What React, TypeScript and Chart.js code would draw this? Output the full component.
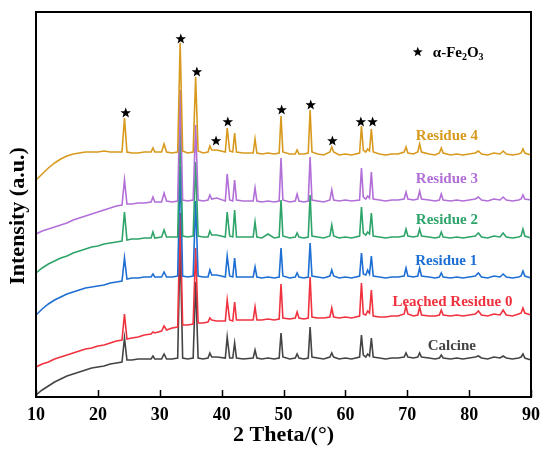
import { useEffect, useRef } from 'react';
import { Chart, registerables } from 'chart.js';
Chart.register(...registerables);

const FONT = "'Liberation Serif', 'Times New Roman', serif";

// 2 theta positions (degrees), shared by all patterns
const twoTheta = [
  10, 11, 12, 13, 14, 15, 16, 17, 18, 19,
  20, 21, 22, 23, 23.9, 24.3, 24.7, 25.5, 26.5, 27.5,
  28.6, 28.9, 29.2, 30.3, 30.7, 31.1, 32, 32.9, 33.3, 33.7,
  34.5, 35.4, 35.8, 36.2, 37, 37.8, 38.1, 38.4, 39.2, 40.6,
  40.9, 41.3, 41.8, 42.1, 42.4, 43.5, 45.1, 45.4, 45.7, 46.5,
  47.5, 48.5, 49.3, 49.6, 49.9, 51, 51.9, 52.2, 52.5, 53.3,
  54.0, 54.3, 54.6, 55.5, 56.5, 57.5, 57.8, 58.1, 59, 60,
  61, 62.3, 62.6, 62.9, 63.3, 63.6, 63.9, 64.2, 64.5, 65.5,
  66.5, 67.5, 68.5, 69.5, 69.8, 70.1, 71, 71.7, 72, 72.3,
  73.5, 74.5, 75.2, 75.5, 75.8, 77, 78, 79, 80, 81,
  81.5, 82, 83, 84, 85, 85.5, 86, 87, 88, 88.4,
  88.7, 89, 90
];

// stacked intensities (a.u., offset included)
const residue4 = [
  217, 223, 229, 234, 238, 241, 243, 244, 245, 245,
  245, 246, 245, 245, 245, 279, 245, 244, 244, 245,
  245, 249, 245, 245, 253, 245, 244, 245, 354, 246,
  244, 245, 320, 246, 244, 245, 251, 247, 247, 245,
  269, 246, 245, 264, 245, 244, 244, 258, 244, 243,
  244, 243, 244, 281, 245, 243, 243, 247, 243, 243,
  244, 287, 245, 243, 242, 245, 250, 245, 242, 243,
  242, 244, 271, 247, 245, 248, 246, 268, 245, 243,
  242, 243, 243, 245, 250, 244, 243, 245, 253, 245,
  243, 242, 244, 249, 244, 242, 243, 242, 243, 244,
  246, 243, 242, 244, 243, 246, 243, 242, 243, 244,
  248, 244, 242
];
const residue3 = [
  163, 166, 168, 170, 172, 174, 177, 179, 181, 183,
  185, 187, 189, 191, 192, 217, 193, 193, 194, 194,
  195, 200, 195, 195, 204, 196, 195, 196, 307, 197,
  196, 197, 272, 197, 196, 197, 202, 198, 199, 196,
  223, 197, 196, 217, 197, 196, 196, 209, 196, 195,
  196, 195, 196, 239, 197, 195, 196, 203, 196, 195,
  196, 240, 197, 196, 195, 197, 207, 197, 196, 197,
  196, 197, 229, 200, 198, 201, 199, 225, 198, 197,
  196, 197, 197, 198, 205, 198, 197, 198, 206, 198,
  197, 196, 197, 203, 197, 196, 197, 196, 197, 198,
  200, 197, 196, 198, 197, 200, 197, 196, 197, 198,
  202, 198, 197
];
const residue2 = [
  124, 129, 133, 136, 139, 141, 144, 146, 148, 150,
  151, 153, 154, 155, 156, 185, 157, 158, 158, 159,
  159, 165, 159, 160, 167, 160, 160, 160, 270, 161,
  160, 161, 235, 161, 160, 160, 166, 162, 162, 160,
  185, 161, 160, 187, 160, 160, 160, 175, 160, 159,
  163, 159, 160, 197, 161, 159, 160, 164, 160, 159,
  160, 202, 161, 160, 159, 161, 172, 161, 159, 160,
  159, 161, 190, 164, 162, 165, 163, 184, 161, 160,
  159, 160, 160, 161, 168, 161, 160, 161, 168, 161,
  160, 159, 160, 165, 160, 159, 160, 159, 160, 161,
  164, 160, 159, 161, 160, 164, 160, 159, 160, 161,
  168, 161, 159
];
const residue1 = [
  82, 88, 93, 97, 100, 103, 105, 107, 109, 110,
  111, 112, 114, 115, 116, 139, 118, 119, 119, 120,
  120, 123, 120, 120, 125, 120, 120, 121, 231, 121,
  120, 121, 196, 121, 120, 120, 127, 122, 122, 120,
  141, 121, 120, 139, 120, 120, 120, 130, 120, 119,
  120, 119, 120, 149, 121, 119, 120, 124, 120, 119,
  120, 154, 121, 120, 119, 121, 127, 121, 119, 120,
  119, 121, 144, 123, 122, 127, 123, 141, 121, 120,
  119, 120, 120, 121, 129, 121, 120, 121, 129, 121,
  120, 119, 120, 124, 120, 119, 120, 119, 120, 121,
  124, 120, 119, 121, 120, 123, 120, 119, 120, 121,
  126, 121, 119
];
const leached0 = [
  30, 33, 35, 38, 40, 42, 44, 46, 48, 49,
  51, 52, 54, 56, 57, 83, 58, 59, 60, 62,
  63, 65, 64, 66, 71, 67, 69, 70, 184, 72,
  72, 73, 149, 74, 74, 75, 79, 77, 76, 76,
  97, 77, 76, 95, 77, 77, 77, 90, 77, 77,
  78, 77, 78, 113, 79, 78, 79, 85, 79, 78,
  79, 120, 80, 79, 79, 80, 89, 80, 79, 80,
  79, 81, 114, 83, 82, 86, 84, 107, 81, 80,
  80, 81, 81, 83, 91, 83, 81, 82, 90, 82,
  81, 81, 82, 87, 82, 81, 82, 81, 82, 83,
  86, 82, 81, 83, 82, 87, 82, 81, 83, 84,
  89, 84, 82
];
const calcine = [
  2, 7, 11, 15, 18, 21, 23, 25, 27, 29,
  30, 31, 33, 34, 35, 59, 37, 37, 38, 38,
  38, 41, 38, 38, 43, 38, 38, 39, 157, 39,
  38, 39, 115, 39, 38, 39, 44, 40, 40, 39,
  60, 39, 39, 54, 39, 38, 39, 47, 39, 38,
  39, 38, 39, 64, 40, 38, 39, 43, 39, 38,
  39, 70, 40, 39, 38, 40, 44, 40, 38, 39,
  38, 40, 62, 42, 40, 43, 41, 59, 40, 39,
  38, 39, 39, 40, 44, 40, 39, 40, 44, 40,
  39, 38, 39, 42, 39, 38, 39, 38, 39, 40,
  41, 39, 38, 40, 39, 41, 39, 38, 39, 40,
  43, 39, 37
];

// alpha-Fe2O3 markers
const starTheta = [24.5, 33.4, 36.0, 39.1, 41.0, 49.7, 54.4, 57.9, 62.5, 64.4];
const starIntensity = [284, 358, 325, 256, 275, 287, 292, 256, 275, 275];

const xTicks = [10, 20, 30, 40, 50, 60, 70, 80, 90];

const seriesNames = ['Residue 4', 'Residue 3', 'Residue 2', 'Residue 1', 'Leached Residue 0', 'Calcine'];
const seriesColors = ['#D89A1E', '#B26FD8', '#2EA46A', '#1E6FD3', '#F0323F', '#444444'];
const seriesData = [residue4, residue3, residue2, residue1, leached0, calcine];
// label anchor (2 theta, intensity)
const labelTheta = [76.4, 76.4, 76.4, 76.3, 77.3, 77.2];
const labelIntensity = [261, 218, 177, 136, 95, 51];

function drawStar(ctx: CanvasRenderingContext2D, cx: number, cy: number, r: number) {
  ctx.beginPath();
  for (let i = 0; i < 10; i++) {
    const rad = i % 2 === 0 ? r : r * 0.42;
    const a = -Math.PI / 2 + (i * Math.PI) / 5;
    const px = cx + rad * Math.cos(a);
    const py = cy + rad * Math.sin(a);
    if (i === 0) ctx.moveTo(px, py);
    else ctx.lineTo(px, py);
  }
  ctx.closePath();
  ctx.fill();
}

const decorPlugin = {
  id: 'xrdDecor',
  afterDatasetsDraw(chart: any) {
    const { ctx, chartArea: a, scales } = chart;
    const x = scales.x;
    const y = scales.y;
    ctx.save();

    // peak markers
    ctx.fillStyle = '#000';
    starTheta.forEach((t, i) => {
      drawStar(ctx, x.getPixelForValue(t), y.getPixelForValue(starIntensity[i]), 5.5);
    });

    // legend: star + alpha-Fe2O3
    const lx = x.getPixelForValue(71.7);
    const ly = y.getPixelForValue(345);
    drawStar(ctx, lx, ly, 5.2);
    ctx.textBaseline = 'alphabetic';
    ctx.textAlign = 'left';
    let tx = lx + 15;
    const base = ly + 5;
    const parts: [string, boolean][] = [['α-Fe', false], ['2', true], ['O', false], ['3', true]];
    parts.forEach(([s, sub]) => {
      ctx.font = sub ? `bold 10px ${FONT}` : `bold 15px ${FONT}`;
      ctx.fillText(s, tx, sub ? base + 3 : base);
      tx += ctx.measureText(s).width;
    });

    // series labels
    ctx.font = `bold 15px ${FONT}`;
    ctx.textAlign = 'center';
    ctx.textBaseline = 'middle';
    seriesNames.forEach((name, i) => {
      ctx.fillStyle = seriesColors[i];
      ctx.fillText(name, x.getPixelForValue(labelTheta[i]), y.getPixelForValue(labelIntensity[i]));
    });

    // frame
    ctx.strokeStyle = '#000';
    ctx.lineWidth = 2;
    ctx.strokeRect(a.left, a.top, a.right - a.left, a.bottom - a.top);

    // inward tick marks
    ctx.lineWidth = 1.5;
    xTicks.forEach((t) => {
      const px = Math.round(x.getPixelForValue(t)) + 0.5;
      ctx.beginPath();
      ctx.moveTo(px, a.bottom);
      ctx.lineTo(px, a.bottom - 7);
      ctx.stroke();
    });

    // y title
    ctx.fillStyle = '#000';
    ctx.font = `bold 22px ${FONT}`;
    ctx.translate(18, 216);
    ctx.rotate(-Math.PI / 2);
    ctx.textAlign = 'center';
    ctx.textBaseline = 'middle';
    ctx.fillText('Intensity (a.u.)', 0, 0);

    ctx.restore();
  }
};

function XrdChart() {
  const canvasRef = useRef<HTMLCanvasElement>(null);
  const chartRef = useRef<Chart | null>(null);

  useEffect(() => {
    if (!canvasRef.current) return;
    if (chartRef.current) chartRef.current.destroy();
    const ctx = canvasRef.current.getContext('2d');
    if (!ctx) return;

    chartRef.current = new Chart(ctx, {
      type: 'line',
      data: {
        datasets: seriesData.map((arr, i) => ({
          label: seriesNames[i],
          data: twoTheta.map((t, j) => ({ x: t, y: arr[j] })),
          borderColor: seriesColors[i],
          borderWidth: 1.6,
          pointRadius: 0,
          tension: 0,
          fill: false
        }))
      },
      options: {
        responsive: false,
        animation: false,
        layout: { padding: { left: 36, top: 12, right: 19, bottom: 0 } },
        plugins: {
          legend: { display: false },
          tooltip: { enabled: false }
        },
        scales: {
          x: {
            type: 'linear',
            min: 10,
            max: 90,
            grid: { display: false, drawTicks: false },
            border: { display: false },
            ticks: {
              stepSize: 10,
              padding: 8,
              maxRotation: 0,
              color: '#000',
              font: { family: FONT, size: 18, weight: 'bold' }
            },
            title: {
              display: true,
              text: '2 Theta/(°)',
              color: '#000',
              padding: { top: 0, bottom: 2 },
              font: { family: FONT, size: 22, weight: 'bold' }
            },
            afterFit: (scale: any) => {
              scale.height = 54;
            }
          },
          y: {
            display: false,
            min: 0,
            max: 385
          }
        }
      },
      plugins: [decorPlugin]
    });

    return () => {
      if (chartRef.current) {
        chartRef.current.destroy();
        chartRef.current = null;
      }
    };
  }, []);

  return (
    <div style={{ position: 'absolute', left: 0, top: 0, width: 550, height: 451, background: '#fff' }}>
      <canvas ref={canvasRef} width={550} height={451} style={{ display: 'block' }} />
    </div>
  );
}

export default function App() {
  return <XrdChart />;
}
